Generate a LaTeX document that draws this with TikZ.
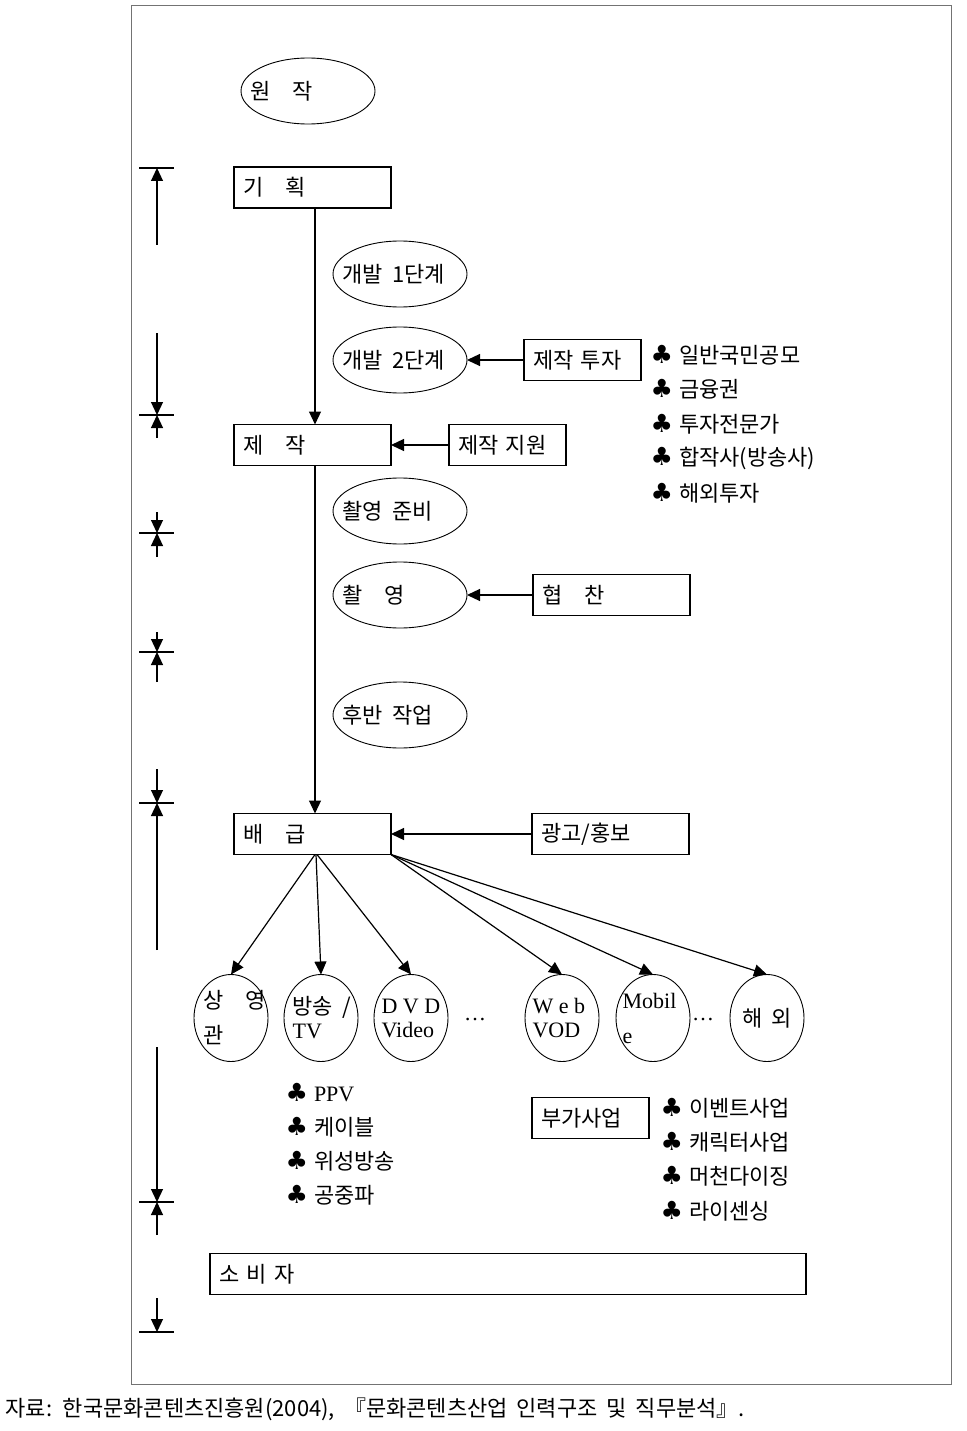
\documentclass[tikz,border=0pt]{standalone}
\usepackage{fontspec}
\setmainfont{Liberation Serif}
\newfontfamily\kr{Noto Sans CJK KR}
\newfontfamily\clubfont{DejaVu Sans}
\usetikzlibrary{arrows.meta,shapes.geometric}
\newcommand\krtext{\kr\fontsize{22}{26}\selectfont\spaceskip=9pt\relax}
\newcommand\lattext{\rmfamily\fontsize{22}{24}\selectfont}
\newcommand\club{{\clubfont\fontsize{25}{24}\selectfont ♣}\hspace{6pt}}

\tikzset{
    box/.style={draw, line width=1.3pt, minimum height=41pt, inner xsep=9pt, inner ysep=0pt, outer sep=0pt, text width=#1, align=left, font=\krtext},
    oval/.style={draw, ellipse, line width=0.9pt, minimum width=134pt, minimum height=66pt, inner sep=0pt, outer sep=0pt},
    disc/.style={draw, ellipse, line width=0.9pt, minimum width=74pt, minimum height=87pt, inner sep=0pt, outer sep=0pt, font=\krtext},
    lbl/.style={anchor=west, xshift=#1, align=left, font=\krtext, inner sep=0pt},
    lbl/.default=9pt,
    item/.style={anchor=west, font=\krtext, inner sep=0pt},
}

\begin{document}
\begin{tikzpicture}[x=1pt, y=-1pt, line width=1.2pt, >={Triangle[length=13pt, width=12pt]}]
        \useasboundingbox (0,0) rectangle (966,1431);
        \draw[line width=1pt, black!55] (131,6) rectangle (951,1384);

        \node[oval, label={[lbl]west:원　작}] (orig) at (308,91) {};
        \node[box=139pt] (plan) at (312.5,187.5) {기　획};
        \node[oval, label={[lbl]west:개발 1단계}] (dev1) at (400,274) {};
        \node[oval, label={[lbl]west:개발 2단계}] (dev2) at (400,360) {};
        \node[box=99pt] (invest) at (582.5,360) {제작 투자};
        \node[box=139pt] (make) at (312.5,445) {제　작};
        \node[box=99pt] (support) at (507.5,445) {제작 지원};
        \node[oval, label={[lbl]west:촬영 준비}] (prep) at (400,511) {};
        \node[oval, label={[lbl]west:촬　영}] (shoot) at (400,595) {};
        \node[box=139pt] (spons) at (611.5,595) {협　찬};
        \node[oval, label={[lbl]west:후반 작업}] (post) at (400,715) {};
        \node[box=139pt] (dist) at (312.5,834) {배　급};
        \node[box=139pt] (ad) at (610.5,834) {광고/홍보};

        \node[disc, label={[lbl]west:{상　영\\[9pt]관}}] (theater) at (231,1018) {};
        \node[disc, label={[lbl=8pt]west:{방송 /\\[-2pt]\lattext TV}}] (tv) at (321,1018) {};
        \node[disc, label={[lbl=7pt, font=\lattext]west:{D V D\\Video}}] (dvd) at (411,1018) {};
        \node[font=\lattext] (dots1) at (475,1019) {…};
        \node[disc, label={[lbl=7pt, font=\lattext]west:{W e b\\VOD}}] (web) at (562,1018) {};
        \node[disc, label={[lbl=6pt, font=\lattext]west:{Mobil\\[11pt]e}}] (mobile) at (653,1018) {};
        \node[font=\lattext] (dots2) at (703,1019) {…};
        \node[disc] (abroad) at (767,1018) {해 외};

        \node[box=99pt] (extra) at (590.5,1118) {부가사업};
        \node[box=578pt] (cons) at (508,1274) {소 비 자};

        \foreach \t [count=\i] in {일반국민공모, 금융권, 투자전문가, 합작사(방송사), 해외투자}
            \node[item] (fund\i) at (650, 320.5+34.5*\i) {\club\t};
        \foreach \t [count=\i] in {\lattext PPV, 케이블, 위성방송, 공중파}
            \node[item] (media\i) at (285, 1059+34*\i) {\club\t};
        \foreach \t [count=\i] in {이벤트사업, 캐릭터사업, 머천다이징, 라이센싱}
            \node[item] (biz\i) at (660, 1073.7+34.3*\i) {\club\t};

        \draw[->] ([xshift=2.5pt]plan.south) -- ([xshift=2.5pt]make.north);
        \draw[->] ([xshift=2.5pt]make.south) -- ([xshift=2.5pt]dist.north);
        \draw[->] (invest) -- (dev2);
        \draw[->] (support) -- (make);
        \draw[->] (spons) -- (shoot);
        \draw[->] (ad) -- (dist);
        \draw[->] ([xshift=2.5pt]dist.south) -- (theater.north);
        \draw[->] ([xshift=3.5pt]dist.south) -- (tv.north);
        \draw[->] ([xshift=4.5pt]dist.south) -- (dvd.north);
        \foreach \n in {web, mobile, abroad}
            \draw[->] (dist.south east) -- (\n.north);

        \foreach \y in {168, 415, 533, 652, 803, 1202, 1332}
            \draw (139,\y) -- (174,\y);
        \foreach \a/\b in {245/168, 333/415, 438/415, 512/533, 557/533, 632/652, 682/652, 769/803, 950/803, 1047/1202, 1235/1202, 1298/1332}
            \draw[->] (157,\a) -- (157,\b);

        \node[item] (src) at (5,1409) {자료: 한국문화콘텐츠진흥원(2004), 『문화콘텐츠산업 인력구조 및 직무분석』.};
    \end{tikzpicture}
\end{document}
